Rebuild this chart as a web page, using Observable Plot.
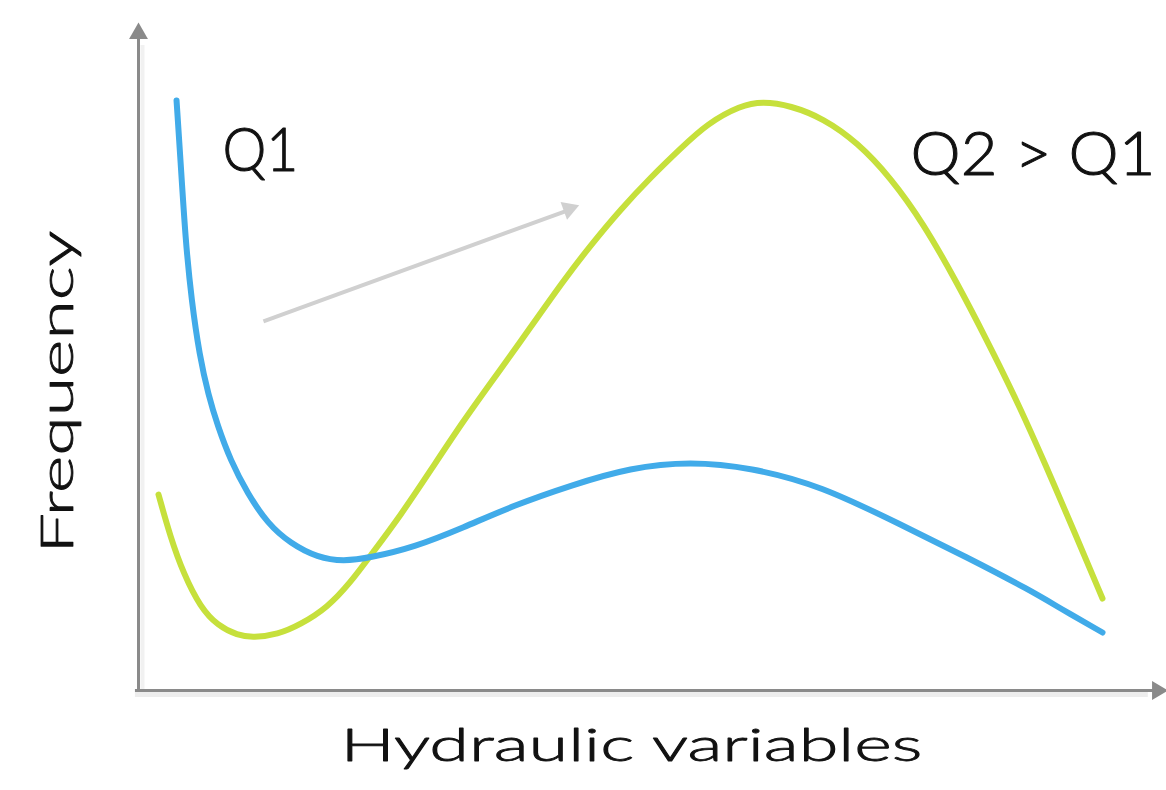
<!DOCTYPE html>
<html><head><meta charset="utf-8">
<script src="https://cdn.jsdelivr.net/npm/d3@7"></script>
<script src="https://cdn.jsdelivr.net/npm/@observablehq/plot@0.6"></script>
<style>body{margin:0;background:#fff}</style>
</head><body><div id="chart"></div>
<script>
// Q1 curve (blue): hydraulic variable (0-100) vs frequency (0-100)
const q1X = [3.73,4.12,4.61,5.20,5.98,6.86,7.75,9.02,10.69,12.65,14.90,17.55,20.10,22.75,26.96,31.86,36.76,42.35,48.24,54.12,60.00,66.86,74.71,81.27,87.45,90.39,94.51];
const q1Y = [88.72,79.70,67.67,58.65,50.38,44.36,39.85,34.59,29.62,25.11,22.11,20.00,19.40,20.00,21.50,24.51,27.82,30.83,33.53,34.44,33.53,30.83,24.96,20.00,15.04,12.33,8.72];
// Q2 curve (green)
const q2X = [1.96,3.14,4.41,6.08,7.75,9.71,11.27,13.63,15.88,18.53,20.78,22.75,25.69,28.63,31.86,35.20,38.43,41.67,44.31,47.25,50.20,53.14,55.78,59.02,61.18,63.92,67.16,70.49,73.73,76.96,80.29,83.04,85.98,88.92,91.86,94.51];
const q2Y = [29.47,23.01,17.59,12.48,9.77,8.27,7.97,8.42,9.92,12.48,16.24,20.30,26.32,33.08,40.60,47.67,54.59,61.65,66.92,72.33,77.14,81.50,85.26,87.97,88.57,87.97,86.02,82.41,77.14,70.23,61.20,53.08,44.06,33.98,23.46,13.83];
// annotations
const labelText = ["Q1", "Q2 > Q1"];
const labelX = [11.96, 87.7];
const labelY = [81.1, 80.5];
const shiftFrom = [12.25, 55.5];
const shiftTo = [41.9, 72.1];
const shiftHead = [42.2, 72.4];
const xTitle = "Hydraulic variables";
const yTitle = "Frequency";

const q1 = q1X.map((x, i) => ({x, y: q1Y[i]}));
const q2 = q2X.map((x, i) => ({x, y: q2Y[i]}));
const labels = labelText.map((t, i) => ({t, x: labelX[i], y: labelY[i]}));

const font = "Lato, 'DejaVu Sans', sans-serif";
const axisColor = "#8a8a8a";
const ink = "#111";

const chart = Plot.plot({
  width: 1166, height: 790,
  marginLeft: 138, marginRight: 8, marginTop: 25, marginBottom: 100,
  x: {domain: [0, 100], axis: null},
  y: {domain: [0, 100], axis: null},
  style: {fontFamily: font, background: "#fff", overflow: "visible"},
  marks: [
    // axis shadows
    Plot.ruleY([0], {x1: -0.3, x2: 99, stroke: "#ededed", strokeWidth: 5, dy: 4}),
    Plot.ruleX([0], {y1: 0, y2: 97, stroke: "#f1f1f1", strokeWidth: 4, dx: 4}),
    // axes with arrow heads
    Plot.ruleY([0], {x1: -0.3, x2: 99.5, stroke: axisColor, strokeWidth: 3}),
    Plot.ruleX([0], {y1: 0, y2: 98.5, stroke: axisColor, strokeWidth: 3}),
    Plot.dot([{x: 0, y: 98.8}], {x: "x", y: "y", symbol: "triangle", r: 7, fill: axisColor, stroke: "none"}),
    Plot.dot([{x: 99.9, y: 0}], {x: "x", y: "y", symbol: "triangle", r: 7, rotate: 90, fill: axisColor, stroke: "none"}),
    // grey shift arrow
    Plot.link([{x1: shiftFrom[0], y1: shiftFrom[1], x2: shiftTo[0], y2: shiftTo[1]}], {x1: "x1", y1: "y1", x2: "x2", y2: "y2", stroke: "#d0d0d0", strokeWidth: 4}),
    Plot.dot([{x: shiftHead[0], y: shiftHead[1]}], {x: "x", y: "y", symbol: "triangle", r: 7, rotate: 70, fill: "#d0d0d0", stroke: "none"}),
    // curves
    Plot.line(q2, {x: "x", y: "y", stroke: "#c6e03c", strokeWidth: 6, curve: "basis"}),
    Plot.line(q1, {x: "x", y: "y", stroke: "#41abe9", strokeWidth: 6, curve: "basis"}),
    // labels
    Plot.text(labels, {x: "x", y: "y", text: "t", fontSize: 62, fontWeight: 300, fill: ink, stroke: ink, strokeWidth: 1, lineAnchor: "middle", textAnchor: "middle"}),
    Plot.text([xTitle], {frameAnchor: "bottom", text: d => d, dx: -17, dy: 56, fontSize: 45, fontWeight: 300, fill: ink, stroke: ink, strokeWidth: 0.8, lineAnchor: "middle", textAnchor: "middle"}),
    Plot.text([yTitle], {frameAnchor: "left", text: d => d, dx: -80, dy: 34, rotate: -90, fontSize: 45, fontWeight: 300, fill: ink, stroke: ink, strokeWidth: 0.8, lineAnchor: "middle", textAnchor: "middle"})
  ]
});
document.getElementById("chart").appendChild(chart);
// widen the glyphs horizontally to the geometric face of the original
const textLengths = {"Q1": 76, "Q2 > Q1": 245, "Hydraulic variables": 582, "Frequency": 323};
d3.select(chart).selectAll("text").each(function() {
  const target = textLengths[this.textContent];
  if (!target) return;
  const len = this.getComputedTextLength();
  if (len > 0) {
    const t = this.getAttribute("transform") || "";
    this.setAttribute("transform", `${t} scale(${target / len},1)`);
  }
});
</script>
</body></html>
